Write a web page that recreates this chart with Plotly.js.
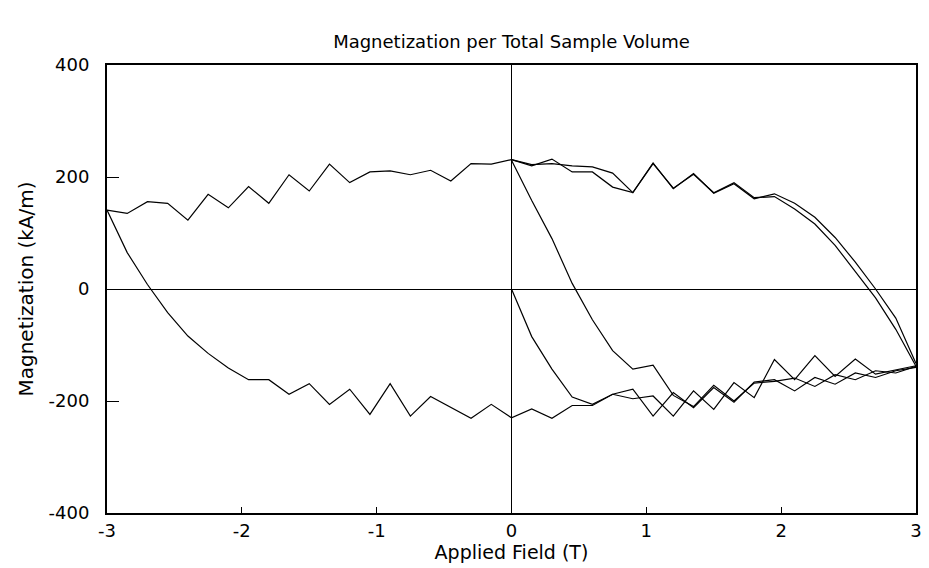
<!DOCTYPE html>
<html>
<head>
<meta charset="utf-8">
<script src="https://cdn.plot.ly/plotly-3.0.1.min.js"></script>
<style>html,body{margin:0;padding:0;background:#fff;}#chart{width:929px;height:568px;}</style>
</head>
<body>
<div id="chart"></div>
<script>
// Applied field (T)
const fieldNeg = [-3, -2.85, -2.7, -2.55, -2.4, -2.25, -2.1, -1.95, -1.8, -1.65, -1.5, -1.35, -1.2, -1.05, -0.9, -0.75, -0.6, -0.45, -0.3, -0.15, 0];
const fieldPos = [0, 0.15, 0.3, 0.45, 0.6, 0.75, 0.9, 1.05, 1.2, 1.35, 1.5, 1.65, 1.8, 1.95, 2.1, 2.25, 2.4, 2.55, 2.7, 2.85, 3];
const fieldFull = [-3, -2.85, -2.7, -2.55, -2.4, -2.25, -2.1, -1.95, -1.8, -1.65, -1.5, -1.35, -1.2, -1.05, -0.9, -0.75, -0.6, -0.45, -0.3, -0.15,
                   0, 0.15, 0.3, 0.45, 0.6, 0.75, 0.9, 1.05, 1.2, 1.35, 1.5, 1.65, 1.8, 1.95, 2.1, 2.25, 2.4, 2.55, 2.7, 2.85, 3];

// Magnetization (kA/m)
const upperBranchNeg = [141, 135, 156, 153, 123, 169, 145, 183, 153, 204, 175, 223, 190, 209, 211, 204, 212, 193, 224, 223, 231];
const upperBranchPosA = [231, 220, 232, 209, 209, 182, 172, 225, 179, 206, 171, 188, 161, 170, 153, 128, 92, 48, 0, -52, -133];
const upperBranchPosB = [231, 222, 224, 220, 218, 207, 172, 224, 180, 205, 172, 190, 163, 165, 143, 116, 78, 32, -16, -72, -138];
const lowerBranch = [141, 65, 8, -42, -84, -115, -141, -162, -162, -188, -169, -206, -179, -224, -169, -227, -192, -212, -231, -206,
                     -230, -214, -231, -208, -208, -188, -179, -227, -185, -212, -176, -202, -166, -162, -182, -158, -170, -150, -158, -146, -140];
const virginCurve = [0, -85, -143, -193, -206, -188, -196, -191, -227, -182, -215, -167, -194, -126, -162, -119, -156, -125, -152, -145, -137];
const recoilCurve = [230, 158, 90, 10, -55, -110, -143, -136, -190, -210, -172, -200, -168, -165, -159, -174, -153, -162, -146, -150, -138];

// Tick labels (plain hyphen minus, as in the reference)
const xTickVals = [-3, -2, -1, 0, 1, 2, 3];
const xTickText = ['-3', '-2', '-1', '0', '1', '2', '3'];
const yTickVals = [-400, -200, 0, 200, 400];
const yTickText = ['-400', '-200', '0', '200', '400'];

const lineStyle = {color: '#000', width: 1.2};
const mk = (x, y, name) => ({x: x, y: y, name: name, type: 'scatter', mode: 'lines', line: lineStyle, showlegend: false, hoverinfo: 'x+y'});

const data = [
  mk(fieldNeg, upperBranchNeg, 'upper branch (neg. field)'),
  mk(fieldPos, upperBranchPosA, 'upper branch (pos. field) 1'),
  mk(fieldPos, upperBranchPosB, 'upper branch (pos. field) 2'),
  mk(fieldFull, lowerBranch, 'lower branch'),
  mk(fieldPos, virginCurve, 'virgin curve'),
  mk(fieldPos, recoilCurve, 'recoil curve')
];

const fontFam = 'DejaVu Sans, Arial, sans-serif';
const layout = {
  width: 929, height: 568,
  paper_bgcolor: '#fff', plot_bgcolor: '#fff',
  margin: {l: 107, r: 13, t: 65, b: 55, pad: 0},
  font: {family: fontFam, color: '#000', size: 17},
  title: {text: 'Magnetization per Total Sample Volume', font: {family: fontFam, size: 18, color: '#000'},
          xref: 'paper', x: 0.5, xanchor: 'center', yref: 'container', y: 1 - 42/568, yanchor: 'middle'},
  xaxis: {
    range: [-3, 3], tickmode: 'array', tickvals: xTickVals, ticktext: xTickText,
    showgrid: false, zeroline: true, zerolinecolor: '#000', zerolinewidth: 1,
    showline: true, linecolor: '#000', linewidth: 2, mirror: true,
    ticks: 'inside', ticklen: 6, tickwidth: 1, tickcolor: '#000',
    tickfont: {family: fontFam, size: 18, color: '#000'},
    title: {text: 'Applied Field (T)', font: {family: fontFam, size: 19, color: '#000'}, standoff: 2}
  },
  yaxis: {
    range: [-400, 400], tickmode: 'array', tickvals: yTickVals, ticktext: yTickText,
    showgrid: false, zeroline: true, zerolinecolor: '#000', zerolinewidth: 1,
    showline: true, linecolor: '#000', linewidth: 2, mirror: true,
    ticks: 'inside', ticklen: 12, tickwidth: 1, tickcolor: '#000',
    ticklabelstandoff: 12,
    tickfont: {family: fontFam, size: 18, color: '#000'},
    title: {text: 'Magnetization (kA/m)', font: {family: fontFam, size: 20, color: '#000'}, standoff: 10}
  }
};

Plotly.newPlot('chart', data, layout, {displayModeBar: false, staticPlot: true});
</script>
</body>
</html>
